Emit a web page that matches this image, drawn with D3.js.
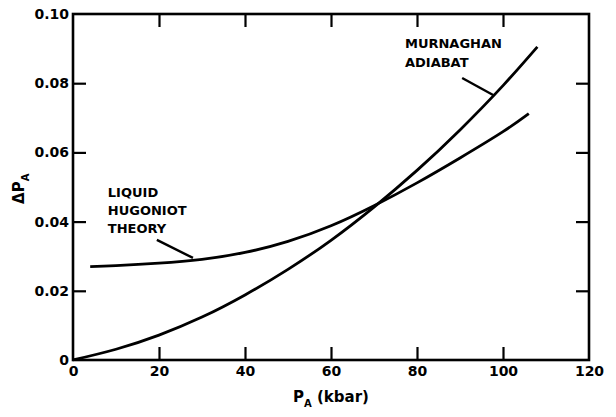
<!DOCTYPE html>
<html>
<head>
<meta charset="utf-8">
<script src="https://cdn.jsdelivr.net/npm/d3@7"></script>
<style>
  body { margin: 0; background: #fff; }
  svg text { font-family: "DejaVu Sans", sans-serif; font-weight: bold; fill: #000; }
</style>
</head>
<body>
<svg id="chart" width="616" height="417"></svg>
<script>
// values (P_A in kbar, delta P_A dimensionless)
var xTicks = [0, 20, 40, 60, 80, 100, 120];
var yTicks = [0, 0.02, 0.04, 0.06, 0.08, 0.10];

var murnaghanP = [0, 10, 20, 30, 40, 50, 60, 70, 80, 90, 100, 108];
var murnaghanD = [0, 0.0031, 0.0072, 0.0124, 0.0188, 0.0262, 0.0346, 0.0442, 0.0548, 0.0665, 0.0793, 0.0905];

var hugoniotP = [4, 10, 20, 30, 40, 50, 60, 70, 80, 90, 100, 106];
var hugoniotD = [0.0270, 0.0273, 0.0280, 0.0291, 0.0311, 0.0343, 0.0388, 0.0446, 0.0512, 0.0584, 0.0660, 0.0712];

var murnaghanLabel = ["MURNAGHAN", "ADIABAT"];
var hugoniotLabel = ["LIQUID", "HUGONIOT", "THEORY"];

var svg = d3.select("#chart");
var x = d3.scaleLinear().domain([0, 120]).range([73, 589]);
var y = d3.scaleLinear().domain([0, 0.10]).range([360, 14]);

// axes: ticks point inward on all four sides
var fmtY = function (d) { return d === 0 ? "0" : d3.format(".2f")(d); };
var axLeft = svg.append("g").attr("transform", "translate(" + x(0) + ",0)")
    .call(d3.axisLeft(y).tickValues(yTicks).tickSize(-13).tickPadding(4).tickFormat(fmtY));
var axRight = svg.append("g").attr("transform", "translate(" + x(120) + ",0)")
    .call(d3.axisRight(y).tickValues(yTicks).tickSize(-13).tickFormat(""));
var axTop = svg.append("g").attr("transform", "translate(0," + y(0.10) + ")")
    .call(d3.axisTop(x).tickValues(xTicks).tickSize(-13).tickFormat(""));
var axBottom = svg.append("g").attr("transform", "translate(0," + y(0) + ")")
    .call(d3.axisBottom(x).tickValues(xTicks).tickSize(-13).tickPadding(6).tickFormat(function (d) { return d; }));

[axLeft, axRight, axTop, axBottom].forEach(function (g) {
    g.select(".domain").remove();
    g.attr("font-size", 14).attr("font-family", null);
    g.selectAll("line").attr("stroke", "#000").attr("stroke-width", 2.2);
});
// drop the ticks that sit on the corners
axLeft.selectAll(".tick").filter(function (d) { return d === 0 || d === 0.10; }).select("line").remove();
axRight.selectAll(".tick").filter(function (d) { return d === 0 || d === 0.10; }).select("line").remove();
axTop.selectAll(".tick").filter(function (d) { return d === 0 || d === 120; }).select("line").remove();
axBottom.selectAll(".tick").filter(function (d) { return d === 0 || d === 120; }).select("line").remove();

// frame
svg.append("rect")
    .attr("x", x(0)).attr("y", y(0.10))
    .attr("width", x(120) - x(0)).attr("height", y(0) - y(0.10))
    .attr("fill", "none").attr("stroke", "#000").attr("stroke-width", 2.6);

// curves
var line = d3.line()
    .x(function (d) { return x(d[0]); })
    .y(function (d) { return y(d[1]); })
    .curve(d3.curveNatural);

svg.append("path")
    .datum(d3.zip(murnaghanP, murnaghanD))
    .attr("d", line).attr("fill", "none").attr("stroke", "#000").attr("stroke-width", 2.8);
svg.append("path")
    .datum(d3.zip(hugoniotP, hugoniotD))
    .attr("d", line).attr("fill", "none").attr("stroke", "#000").attr("stroke-width", 2.8);

// leader lines
var leaders = [[[90.5, 0.0815], [97.7, 0.0766]], [[19.5, 0.0347], [27.9, 0.0295]]];
leaders.forEach(function (l) {
    svg.append("line")
        .attr("x1", x(l[0][0])).attr("y1", y(l[0][1]))
        .attr("x2", x(l[1][0])).attr("y2", y(l[1][1]))
        .attr("stroke", "#000").attr("stroke-width", 2.4);
});

// curve labels
function block(lines, px, py, step) {
    var t = svg.append("text").attr("font-size", 13);
    lines.forEach(function (s, i) {
        t.append("tspan").attr("x", x(px)).attr("y", y(py) + i * step).text(s);
    });
}
block(murnaghanLabel, 77.2, 0.0902, 19);
block(hugoniotLabel, 8.1, 0.0471, 18);

// axis titles
var xt = svg.append("text").attr("x", x(60)).attr("y", 402)
    .attr("text-anchor", "middle").attr("font-size", 15);
xt.append("tspan").text("P");
xt.append("tspan").attr("font-size", 10).attr("dy", 5).text("A");
xt.append("tspan").attr("dy", -5).text(" (kbar)");

var yt = svg.append("text")
    .attr("transform", "translate(24," + y(0.0495) + ") rotate(-90)")
    .attr("text-anchor", "middle").attr("font-size", 15);
yt.append("tspan").text("\u0394P");
yt.append("tspan").attr("font-size", 10).attr("dy", 5).text("A");
</script>
</body>
</html>
